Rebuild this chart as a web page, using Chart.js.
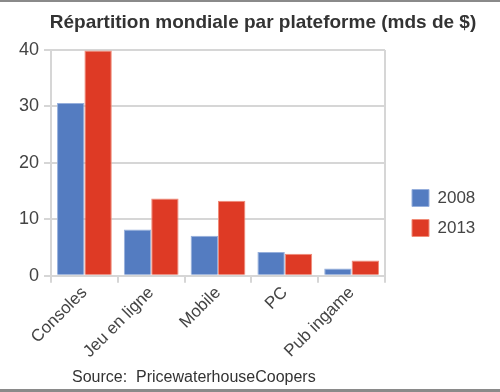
<!DOCTYPE html>
<html>
<head>
<meta charset="utf-8">
<script src="https://cdn.jsdelivr.net/npm/chart.js@4"></script>
<style>
  body { margin: 0; background: #fff; }
  #wrap { position: relative; width: 500px; height: 392px; }
  #topline { position: absolute; left: 0; top: 0; width: 500px; height: 2px; background: #8a8a8a; }
  #botline { position: absolute; left: 0; top: 389px; width: 500px; height: 3px; background: #8a8a8a; }
  #title { position: absolute; left: 13px; top: 11px; width: 500px; text-align: center; font: bold 19px "Liberation Sans", Arial, sans-serif; color: #333; }
  #source { position: absolute; left: 72px; top: 368px; font: 16px "Liberation Sans", Arial, sans-serif; color: #333; }
</style>
</head>
<body>
<div id="wrap">
  <canvas id="barChart" width="500" height="392"></canvas>
  <div id="topline"></div>
  <div id="botline"></div>
  <div id="title">Répartition mondiale par plateforme (mds de $)</div>
  <div id="source">Source:&nbsp; PricewaterhouseCoopers</div>
</div>
<script>
var categories = ['Consoles', 'Jeu en ligne', 'Mobile', 'PC', 'Pub ingame'];
var values2008 = [30.6, 8.2, 7.1, 4.2, 1.3];
var values2013 = [39.9, 13.7, 13.3, 3.9, 2.7];
var yTicks = [0, 10, 20, 30, 40];

var gridGray = '#d6d6d6';
var font = "'Liberation Sans', Arial, sans-serif";

var ctx = document.getElementById('barChart').getContext('2d');
var myChart = new Chart(ctx, {
    type: 'bar',
    data: {
        labels: categories,
        datasets: [{
            label: '2008',
            data: values2008,
            backgroundColor: 'rgb(84, 124, 193)',
            borderColor: 'rgb(150, 175, 220)',
            borderWidth: 1
        }, {
            label: '2013',
            data: values2013,
            backgroundColor: 'rgb(222, 58, 37)',
            borderColor: 'rgb(240, 140, 120)',
            borderWidth: 1
        }]
    },
    options: {
        responsive: false,
        animation: false,
        categoryPercentage: 0.82,
        barPercentage: 1.0,
        layout: { padding: { left: 14, right: 24, top: 50, bottom: 16 } },
        plugins: {
            legend: {
                position: 'right',
                labels: {
                    color: '#444',
                    font: { family: font, size: 17 },
                    boxWidth: 17,
                    boxHeight: 17,
                    padding: 13
                }
            },
            tooltip: { enabled: false }
        },
        scales: {
            x: {
                grid: {
                    color: function (c) {
                        return (c.index === 0 || c.type === 'scale') ? gridGray : 'rgba(0,0,0,0)';
                    },
                    tickColor: gridGray,
                    lineWidth: 2,
                    tickLength: 7
                },
                border: { color: gridGray, width: 2 },
                ticks: {
                    color: '#444',
                    font: { family: font, size: 17 },
                    minRotation: 45,
                    maxRotation: 45,
                    padding: 0
                },
                afterFit: function (s) { s.height += 14; }
            },
            y: {
                min: 0,
                max: 40,
                afterBuildTicks: function (s) {
                    s.ticks = yTicks.map(function (v) { return { value: v }; });
                },
                grid: { color: gridGray, lineWidth: 2, tickLength: 7 },
                border: { color: gridGray, width: 2 },
                ticks: {
                    color: '#444',
                    font: { family: font, size: 18 },
                    padding: 5
                }
            },
            gap: {
                position: 'right',
                display: true,
                grid: { display: false },
                border: { display: false },
                ticks: { display: false },
                afterFit: function (s) { s.width = 14; }
            }
        }
    }
});
</script>
</body>
</html>
